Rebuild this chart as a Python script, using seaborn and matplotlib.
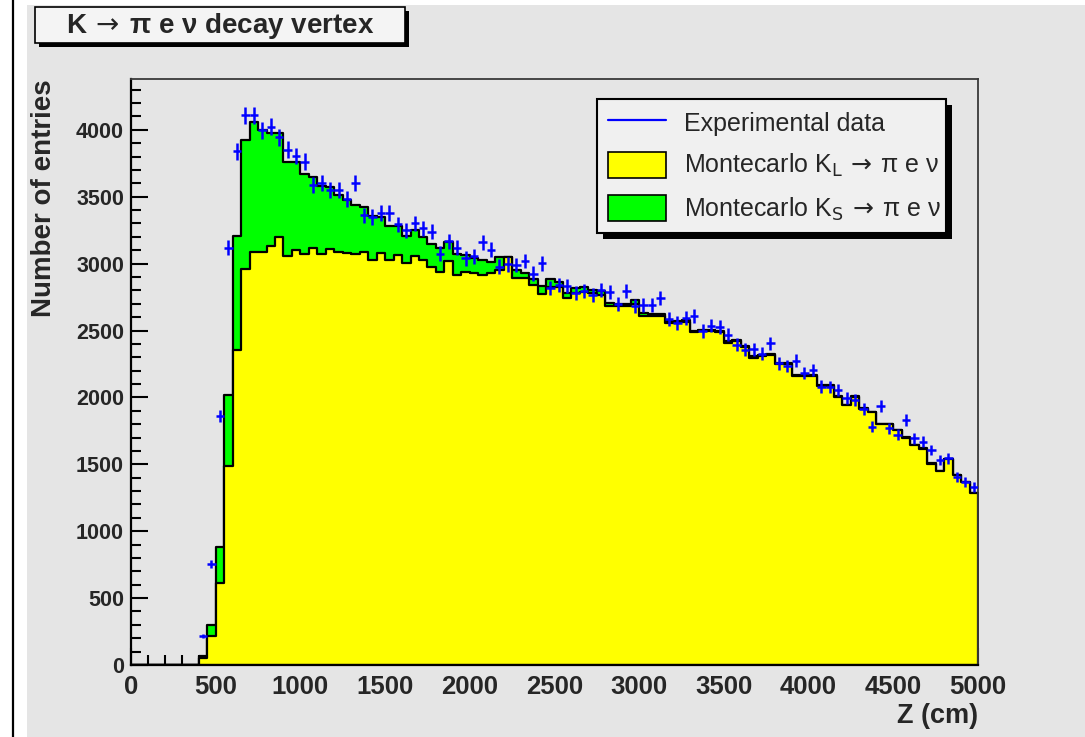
import numpy as np
import pandas as pd
import matplotlib
matplotlib.use("Agg")
import matplotlib.pyplot as plt
import seaborn as sns
from matplotlib.patches import Rectangle, Patch
from matplotlib.lines import Line2D

# Z binning of the decay vertex (50 cm bins from 0 to 5000 cm)
bin_edges = list(range(0, 5001, 50))

# Monte Carlo K_L -> pi e nu, entries per bin
kl_counts = [
    0, 0, 0, 0, 0, 0, 0, 0, 50, 215,
    610, 1485, 2355, 2960, 3085, 3085, 3130, 3200, 3060, 3100,
    3075, 3115, 3075, 3110, 3090, 3080, 3075, 3090, 3030, 3080,
    3030, 3065, 3005, 3055, 3028, 2978, 2941, 3016, 2916, 2941,
    2928, 2916, 2928, 2953, 3050, 2891, 2891, 2841, 2774, 2829,
    2829, 2741, 2779, 2791, 2779, 2765, 2680, 2685, 2680, 2695,
    2610, 2605, 2608, 2556, 2562, 2567, 2487, 2495, 2495, 2491,
    2409, 2422, 2377, 2298, 2311, 2316, 2249, 2250, 2162, 2162,
    2163, 2088, 2088, 2002, 1940, 2003, 1915, 1890, 1799, 1799,
    1754, 1699, 1642, 1617, 1506, 1451, 1536, 1419, 1369, 1282,
]

# Monte Carlo K_S -> pi e nu, entries per bin (stacked on top of K_L)
ks_counts = [
    0, 0, 0, 0, 0, 0, 0, 0, 20, 85,
    270, 535, 855, 965, 977, 915, 845, 775, 700, 660,
    595, 535, 505, 460, 420, 395, 365, 330, 327, 272,
    253, 218, 205, 195, 172, 172, 174, 144, 154, 126,
    117, 109, 87, 100, 3, 62, 39, 47, 56, 53,
    34, 38, 37, 34, 26, 30, 24, 15, 19, 34,
    19, 19, 16, 14, 12, 12, 10, 10, 10, 9,
    9, 8, 8, 8, 7, 7, 7, 6, 6, 6,
    5, 5, 5, 5, 4, 4, 4, 4, 3, 3,
    3, 3, 3, 3, 2, 2, 2, 2, 2, 2,
]

# Experimental data, entries per bin from the 400-450 cm bin onwards
data_first_bin = 8
data_counts = [
    215, 755, 1860, 3120, 3840, 4110, 4110, 3997, 4023, 3945,
    3853, 3805, 3762, 3586, 3602, 3553, 3550, 3482, 3606, 3360,
    3350, 3380, 3380, 3293, 3248, 3300, 3265, 3240, 3075, 3166,
    3120, 3040, 3055, 3161, 3103, 2978, 2995, 2991, 3019, 2925,
    3003, 2816, 2838, 2835, 2779, 2795, 2766, 2800, 2791, 2698,
    2795, 2681, 2690, 2694, 2745, 2588, 2555, 2592, 2607, 2496,
    2536, 2528, 2470, 2393, 2355, 2360, 2325, 2405, 2256, 2236,
    2274, 2181, 2206, 2081, 2076, 2056, 1994, 1981, 1912, 1782,
    1937, 1770, 1720, 1832, 1695, 1670, 1607, 1533, 1545, 1408,
    1371, 1333,
]

x_ticks = list(range(0, 5001, 500))
y_ticks = list(range(0, 4001, 500))

edges = np.array(bin_edges, dtype=float)
centers = edges[:-1] + np.diff(edges) / 2
kl = np.array(kl_counts, dtype=float)
ks = np.array(ks_counts, dtype=float)
mc = pd.DataFrame({"z": centers, "kl": kl, "total": kl + ks})
data_z = centers[data_first_bin:]
data_n = np.array(data_counts, dtype=float)

sns.set_style("ticks")
plt.rcParams["font.family"] = ["Liberation Sans", "DejaVu Sans"]
plt.rcParams["mathtext.fontset"] = "dejavusans"

W, H = 1085, 737
BG = "#e5e5e5"
fig = plt.figure(figsize=(W / 100, H / 100), dpi=100, facecolor="white")

# canvas background and left border line
fig.add_artist(Rectangle((27 / W, 0), 1 - 27 / W, 1 - 5 / H, transform=fig.transFigure,
                         facecolor=BG, edgecolor="none", zorder=-10))
fig.add_artist(Line2D([13 / W, 13 / W], [0, 1], transform=fig.transFigure,
                      color="black", lw=1.6, zorder=-9))

ax = fig.add_axes([131 / W, 1 - 665 / H, 847 / W, (665 - 79) / H])
ax.set_facecolor(BG)
ax.set_axisbelow(True)

# stacked histograms: total (K_L + K_S) in green, K_L in yellow over it
sns.histplot(data=mc, x="z", weights="total", bins=bin_edges, element="step",
             fill=True, color="#00ff00", alpha=1, edgecolor="black",
             linewidth=1.6, ax=ax, zorder=1)
sns.histplot(data=mc, x="z", weights="kl", bins=bin_edges, element="step",
             fill=True, color="#ffff00", alpha=1, edgecolor="black",
             linewidth=1.6, ax=ax, zorder=2)

# data points with Poisson errors and bin-width horizontal bars
ax.errorbar(data_z, data_n, xerr=25, yerr=np.sqrt(data_n), fmt="none",
            ecolor="#0000ff", elinewidth=1.8, capsize=0, zorder=3)

ax.set_xlim(0, 5000)
ax.set_ylim(0, 4380)
ax.set_xticks(x_ticks)
ax.set_xticks(list(range(0, 5001, 100)), minor=True)
ax.set_yticks(y_ticks)
ax.set_yticks(list(range(0, 4301, 100)), minor=True)
ax.tick_params(axis="both", which="both", direction="in", width=1.5,
               top=False, right=False, color="black")
ax.tick_params(axis="both", which="major", length=12)
ax.tick_params(axis="both", which="minor", length=7)
ax.tick_params(axis="x", which="major", labelsize=18.5, pad=7)
ax.tick_params(axis="y", which="major", labelsize=15.5, pad=5)
for lab in ax.get_xticklabels() + ax.get_yticklabels():
    lab.set_fontweight("bold")

for side in ("left", "bottom"):
    ax.spines[side].set_linewidth(1.6)
    ax.spines[side].set_color("black")
for side in ("right", "top"):
    ax.spines[side].set_linewidth(1.3)
    ax.spines[side].set_color("#3a3a3a")

ax.set_xlabel("Z (cm)", fontsize=19.5, fontweight="bold", loc="right")
ax.xaxis.set_label_coords(1.0, -0.064)
ax.set_ylabel("Number of entries", fontsize=20, fontweight="bold", loc="top")
ax.yaxis.set_label_coords(-0.087, 1.0)

handles = [
    Line2D([], [], color="#0000ff", lw=1.6),
    Patch(facecolor="#ffff00", edgecolor="black", linewidth=1.2),
    Patch(facecolor="#00ff00", edgecolor="black", linewidth=1.2),
]
labels = [
    "Experimental data",
    r"Montecarlo K$_{\mathsf{L}}\,\rightarrow\,$π e ν",
    r"Montecarlo K$_{\mathsf{S}}\,\rightarrow\,$π e ν",
]
leg = ax.legend(handles, labels, loc="upper left",
                bbox_to_anchor=(597 / W, 1 - 232 / H, (946 - 597) / W, (232 - 99) / H),
                bbox_transform=fig.transFigure, mode="expand", borderaxespad=0,
                fontsize=18, handlelength=2.35, handleheight=1.25,
                handletextpad=0.7, labelspacing=0.62, borderpad=0.42,
                fancybox=False, framealpha=1, facecolor="#f0f0f0",
                edgecolor="black")
leg.get_frame().set_linewidth(1.5)
leg.set_zorder(6)

fig.canvas.draw()
bb = leg.get_window_extent()
ax.add_patch(Rectangle(((bb.x0 + 6) / W, (bb.y0 - 6) / H), bb.width / W, bb.height / H,
                       transform=fig.transFigure, facecolor="black",
                       edgecolor="none", clip_on=False, zorder=5.5))

# title box with drop shadow
tx0, ty0, tx1, ty1 = 35, 7, 405, 43
ax.add_patch(Rectangle(((tx0 + 4) / W, 1 - (ty1 + 4) / H), (tx1 - tx0) / W, (ty1 - ty0) / H,
                       transform=fig.transFigure, facecolor="black",
                       edgecolor="none", clip_on=False, zorder=5.5))
ax.add_patch(Rectangle((tx0 / W, 1 - ty1 / H), (tx1 - tx0) / W, (ty1 - ty0) / H,
                       transform=fig.transFigure, facecolor="#f4f4f4",
                       edgecolor="black", linewidth=1.2, clip_on=False, zorder=5.6))
fig.text((tx0 + tx1) / 2 / W, 1 - 26 / H, r"K$\,\rightarrow\,$π e ν decay vertex",
         ha="center", va="center", fontsize=20, fontweight="bold", zorder=7)

fig.savefig("out.png", dpi=100, facecolor=fig.get_facecolor())
